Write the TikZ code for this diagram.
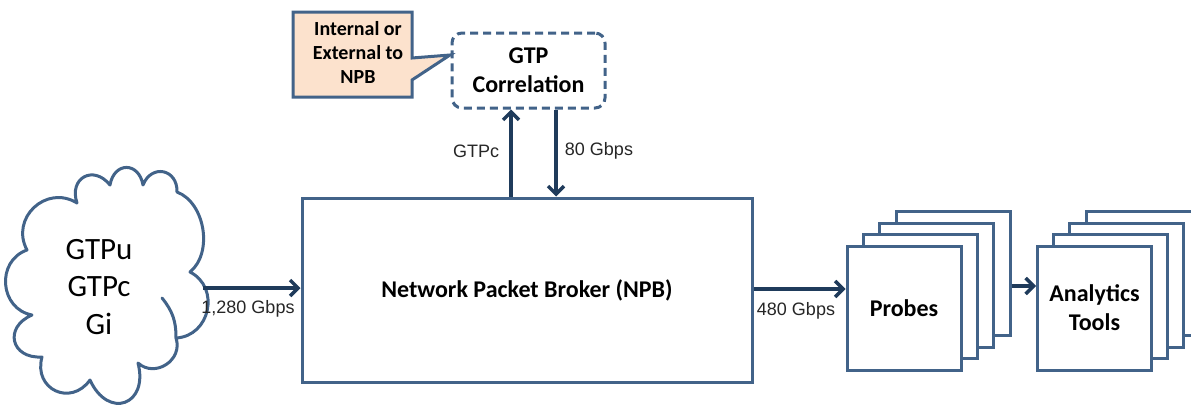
\documentclass[tikz,border=0pt]{standalone}
\usepackage{fontspec}
\setmainfont{Carlito}
\newfontfamily\arialf{Liberation Sans}
\usetikzlibrary{arrows.meta}
\definecolor{boxc}{HTML}{426389}
\definecolor{arrc}{HTML}{1F3B5B}
\definecolor{peach}{HTML}{FCE2CD}
\definecolor{lblc}{HTML}{262626}
\begin{document}
\begin{tikzpicture}[x=1pt,y=-1pt,
  stackbox/.style={draw=boxc, line width=3pt, fill=white, inner sep=0pt, minimum width=114pt, minimum height=124pt},
  boldtxt/.style={font=\bfseries\fontsize{24}{29}\selectfont, align=center},
  arrow/.style={draw=arrc, line width=3.5pt, -{Straight Barb[length=8pt,width=16pt]}},
  lbl/.style={font=\arialf\fontsize{18}{22}\selectfont, text=lblc, inner sep=0pt},
  cloudline/.style={draw=boxc, line width=3pt, line join=round, line cap=round}]
\useasboundingbox (0,0) rectangle (1191,410);
\clip (0,0) rectangle (1191,410);

% cloud (drawn as puffs)
\draw[cloudline, fill=white]
  (27,250) to[bend left=75, looseness=1.35] (77,203)
  to[bend left=80, looseness=1.8] (110,185)
  to[bend left=80, looseness=1.85] (143,185)
  to[bend left=80, looseness=1.7] (177,192)
  to[bend left=60, looseness=0.95] (190,272)
  to[bend left=75, looseness=1.3] (176,338)
  to[bend left=75, looseness=1.3] (138,363)
  to[bend left=85, looseness=2.2] (90,380)
  to[bend left=80, looseness=1.6] (42,357)
  to[bend left=80, looseness=1.85] (32,315)
  to[bend left=75, looseness=1.3] cycle;
\draw[cloudline] (162,298) to[bend left=20] (176,338);
\coordinate (cloudE) at (203,288);
\node[font=\fontsize{31}{37.5}\selectfont, align=center, inner sep=0pt] (cloudtxt) at (99,287) {GTPu\\GTPc\\Gi};

% NPB
\node[draw=boxc, line width=3pt, minimum width=450pt, minimum height=184pt, inner sep=0pt, boldtxt] (npb) at (527,290) {Network Packet Broker (NPB)};

% GTP correlation
\node[draw=boxc, line width=3pt, dash pattern=on 8pt off 5pt, rounded corners=10pt,
  minimum width=153pt, minimum height=75pt, inner sep=0pt, boldtxt] (gtp) at (528.5,70.5) {GTP\\Correlation};

% callout
\draw[draw=boxc, fill=peach, line width=3pt, line join=miter] (293,12) -- (412,12) -- (412,58) -- (450,55) -- (412,80) -- (412,97) -- (293,97) -- cycle;
\node[font=\bfseries\fontsize{20}{24}\selectfont, align=center, inner sep=0pt] (callout) at (358,52) {Internal or\\External to\\NPB};

% probes stack
\node[stackbox] (probes3) at (953,273) {};
\node[stackbox] (probes2) at (936,285) {};
\node[stackbox] (probes1) at (920,296) {};
\node[stackbox, boldtxt] (probes) at (904,308) {Probes};

% analytics stack
\node[stackbox] (ana3) at (1143.5,273) {};
\node[stackbox] (ana2) at (1126.5,285) {};
\node[stackbox] (ana1) at (1110.5,296) {};
\node[stackbox, boldtxt] (ana) at (1094.5,308) {Analytics\\Tools};

% arrows
\draw[arrow] (cloudE) -- (npb.west |- cloudE);
\draw[arrow] (npb.north -| 511,0) -- (gtp.south -| 511,0);
\draw[arrow] (gtp.south -| 556,0) -- (npb.north -| 556,0);
\draw[arrow] (npb.east |- 0,289) -- (probes.west |- 0,289);
\draw[arrow] (probes3.east |- 0,286) -- (ana.west |- 0,286);

% labels
\node[lbl] (l1) at (248,309) {1,280 Gbps};
\node[lbl] (l2) at (476,151) {GTPc};
\node[lbl] (l3) at (599,151) {80 Gbps};
\node[lbl] (l4) at (796,311) {480 Gbps};
\end{tikzpicture}
\end{document}
